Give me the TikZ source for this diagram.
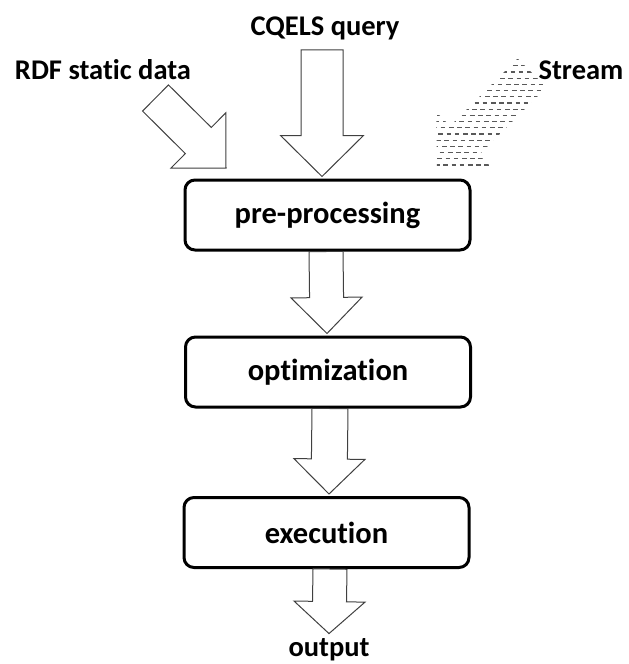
\documentclass[tikz,border=0pt]{standalone}
\usepackage{fontspec}
\setmainfont{Carlito}[Ligatures=NoCommon]
\usetikzlibrary{calc}
\newcommand{\arrowpts}[5]{%
 ($(#1)!#3!90:(#2)$) -- ($(hb)!#3!90:(#2)$) -- ($(hb)!#4!90:(#2)$) -- (#2) -- ($(hb)!#4!-90:(#2)$) -- ($(hb)!#3!-90:(#2)$) -- ($(#1)!#3!-90:(#2)$) -- cycle}
\newcommand{\fatarrow}[6][]{\coordinate (hb) at ($(#3)!#6!(#2)$);
 \draw[fatarr,#1] \arrowpts{#2}{#3}{#4}{#5}{#6};}
\begin{document}
\begin{tikzpicture}[x=1pt,y=-1pt,
  stage/.style={draw=black, line width=3pt, rounded corners=10pt, minimum width=285pt, minimum height=70pt, inner sep=0pt, font=\fontsize{30.5}{36}\selectfont\bfseries},
  lbl/.style={font=\fontsize{28.5}{34}\selectfont\bfseries, inner sep=0pt},
  fatarr/.style={draw=black!75, line width=1pt, fill=white, line join=miter},
  streamdash/.style={draw=black!65, line width=1.2pt, dash pattern=on 4.6pt off 3.6pt}]
\useasboundingbox (0,0) rectangle (629,664);
% stages
\node[stage] (pre) at (327.5,215) {pre-processing};
\node[stage] (opt) at (328,372) {optimization};
\node[stage] (exe) at (326.5,532.5) {execution};
% labels
\node[lbl] (rdf) at (103,70) {RDF static data};
\node[lbl] (cq) at (325,28) {CQELS query};
\node[lbl] (st) at (581,70) {Stream};
\node[lbl] (out) at (329,650) {output};
% arrow end points
\coordinate (cqt) at ($(cq.south)+(-3,10)$);
\coordinate (cqh) at ($(pre.north)+(-5.5,-2)$);
\coordinate (rdt) at (155.5,98);
\coordinate (rdh) at (226,168);
\coordinate (p2o) at ($(pre.south)+(-1.5,0)$);
\coordinate (p2oh) at ($(opt.north)+(-1,-2)$);
\coordinate (o2e) at ($(opt.south)+(2,0)$);
\coordinate (o2eh) at ($(exe.north)+(2.5,-2)$);
\coordinate (e2o) at ($(exe.south)+(3.5,0)$);
\coordinate (e2oh) at ($(out.north)+(0,-5)$);
\coordinate (stt) at (532,73);
\coordinate (sth) at (437,168);
% block arrows
\fatarrow{cqt}{cqh}{21pt}{41.5pt}{41pt}
\fatarrow{rdt}{rdh}{18.4pt}{39pt}{39pt}
\fatarrow{p2o}{p2oh}{17pt}{35.5pt}{36pt}
\fatarrow{o2e}{o2eh}{18pt}{35.5pt}{35pt}
\fatarrow{e2o}{e2oh}{17pt}{35.5pt}{32pt}
% stream arrow made of dashes
\coordinate (hb) at ($(sth)!39pt!(stt)$);
\begin{scope}
\clip \arrowpts{stt}{sth}{20.5pt}{40pt}{39pt};
\foreach \i in {0,...,18} {
  \draw[streamdash, dash phase={2.3*\i}] (425,{59.5+6.2*\i}) -- (560,{59.5+6.2*\i});
}
\end{scope}
\end{tikzpicture}
\end{document}
